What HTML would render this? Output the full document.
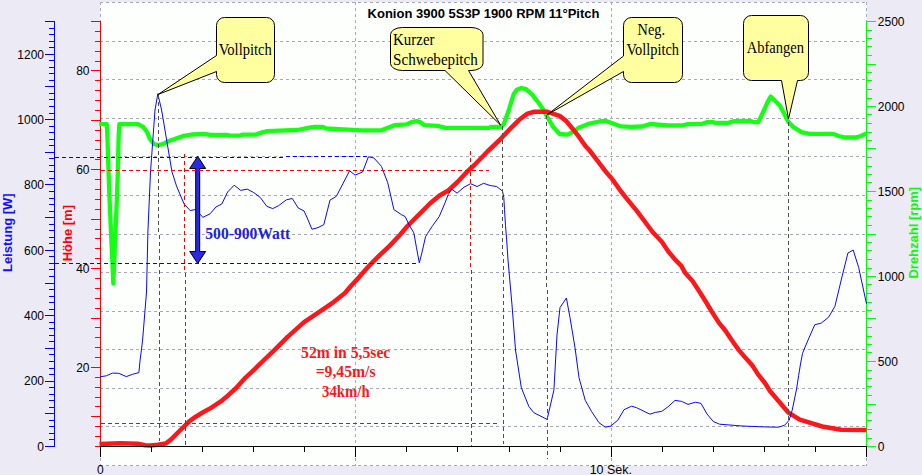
<!DOCTYPE html>
<html><head><meta charset="utf-8"><title>Konion 3900 5S3P 1900 RPM 11°Pitch</title>
<style>html,body{margin:0;padding:0;background:#ECEAF5;overflow:hidden;}svg{display:block;}text{font-family:"Liberation Sans",Arial,sans-serif;}.s{font-family:"Liberation Serif","Times New Roman",serif;}</style></head><body>
<svg width="922" height="475" viewBox="0 0 922 475">
<rect width="922" height="475" fill="#ECEAF5"/>
<rect x="100" y="2" width="767" height="464" fill="#FDFFFD"/>
<g stroke="#A8A8B8" stroke-width="1" stroke-dasharray="3 3" shape-rendering="crispEdges" fill="none">
<line x1="100" x2="867" y1="2.5" y2="2.5"/>
<line x1="100" x2="867" y1="41.5" y2="41.5"/>
<line x1="100" x2="867" y1="79.5" y2="79.5"/>
<line x1="100" x2="867" y1="118.5" y2="118.5"/>
<line x1="100" x2="867" y1="156.5" y2="156.5"/>
<line x1="100" x2="867" y1="195.5" y2="195.5"/>
<line x1="100" x2="867" y1="234.5" y2="234.5"/>
<line x1="100" x2="867" y1="272.5" y2="272.5"/>
<line x1="100" x2="867" y1="311.5" y2="311.5"/>
<line x1="100" x2="867" y1="349.5" y2="349.5"/>
<line x1="100" x2="867" y1="388.5" y2="388.5"/>
<line x1="100" x2="867" y1="426.5" y2="426.5"/>
<line x1="100" x2="867" y1="465.5" y2="465.5"/>
<line x1="100.5" x2="100.5" y1="2" y2="466"/>
<line x1="355.5" x2="355.5" y1="2" y2="466"/>
<line x1="611.5" x2="611.5" y1="2" y2="466"/>
<line x1="866.5" x2="866.5" y1="2" y2="466"/>
</g>
<g stroke="#0000FF" stroke-width="1" shape-rendering="crispEdges">
<line x1="54.5" x2="54.5" y1="21" y2="447"/>
<line x1="45" x2="55" y1="446.5" y2="446.5"/>
<line x1="49" x2="55" y1="439.5" y2="439.5"/>
<line x1="49" x2="55" y1="433.5" y2="433.5"/>
<line x1="49" x2="55" y1="426.5" y2="426.5"/>
<line x1="49" x2="55" y1="420.5" y2="420.5"/>
<line x1="45" x2="55" y1="413.5" y2="413.5"/>
<line x1="49" x2="55" y1="407.5" y2="407.5"/>
<line x1="49" x2="55" y1="400.5" y2="400.5"/>
<line x1="49" x2="55" y1="394.5" y2="394.5"/>
<line x1="49" x2="55" y1="387.5" y2="387.5"/>
<line x1="45" x2="55" y1="381.5" y2="381.5"/>
<line x1="49" x2="55" y1="374.5" y2="374.5"/>
<line x1="49" x2="55" y1="368.5" y2="368.5"/>
<line x1="49" x2="55" y1="361.5" y2="361.5"/>
<line x1="49" x2="55" y1="354.5" y2="354.5"/>
<line x1="45" x2="55" y1="348.5" y2="348.5"/>
<line x1="49" x2="55" y1="341.5" y2="341.5"/>
<line x1="49" x2="55" y1="335.5" y2="335.5"/>
<line x1="49" x2="55" y1="328.5" y2="328.5"/>
<line x1="49" x2="55" y1="322.5" y2="322.5"/>
<line x1="45" x2="55" y1="315.5" y2="315.5"/>
<line x1="49" x2="55" y1="309.5" y2="309.5"/>
<line x1="49" x2="55" y1="302.5" y2="302.5"/>
<line x1="49" x2="55" y1="296.5" y2="296.5"/>
<line x1="49" x2="55" y1="289.5" y2="289.5"/>
<line x1="45" x2="55" y1="283.5" y2="283.5"/>
<line x1="49" x2="55" y1="276.5" y2="276.5"/>
<line x1="49" x2="55" y1="269.5" y2="269.5"/>
<line x1="49" x2="55" y1="263.5" y2="263.5"/>
<line x1="49" x2="55" y1="256.5" y2="256.5"/>
<line x1="45" x2="55" y1="250.5" y2="250.5"/>
<line x1="49" x2="55" y1="243.5" y2="243.5"/>
<line x1="49" x2="55" y1="237.5" y2="237.5"/>
<line x1="49" x2="55" y1="230.5" y2="230.5"/>
<line x1="49" x2="55" y1="224.5" y2="224.5"/>
<line x1="45" x2="55" y1="217.5" y2="217.5"/>
<line x1="49" x2="55" y1="211.5" y2="211.5"/>
<line x1="49" x2="55" y1="204.5" y2="204.5"/>
<line x1="49" x2="55" y1="198.5" y2="198.5"/>
<line x1="49" x2="55" y1="191.5" y2="191.5"/>
<line x1="45" x2="55" y1="184.5" y2="184.5"/>
<line x1="49" x2="55" y1="178.5" y2="178.5"/>
<line x1="49" x2="55" y1="171.5" y2="171.5"/>
<line x1="49" x2="55" y1="165.5" y2="165.5"/>
<line x1="49" x2="55" y1="158.5" y2="158.5"/>
<line x1="45" x2="55" y1="152.5" y2="152.5"/>
<line x1="49" x2="55" y1="145.5" y2="145.5"/>
<line x1="49" x2="55" y1="139.5" y2="139.5"/>
<line x1="49" x2="55" y1="132.5" y2="132.5"/>
<line x1="49" x2="55" y1="126.5" y2="126.5"/>
<line x1="45" x2="55" y1="119.5" y2="119.5"/>
<line x1="49" x2="55" y1="113.5" y2="113.5"/>
<line x1="49" x2="55" y1="106.5" y2="106.5"/>
<line x1="49" x2="55" y1="99.5" y2="99.5"/>
<line x1="49" x2="55" y1="93.5" y2="93.5"/>
<line x1="45" x2="55" y1="86.5" y2="86.5"/>
<line x1="49" x2="55" y1="80.5" y2="80.5"/>
<line x1="49" x2="55" y1="73.5" y2="73.5"/>
<line x1="49" x2="55" y1="67.5" y2="67.5"/>
<line x1="49" x2="55" y1="60.5" y2="60.5"/>
<line x1="45" x2="55" y1="54.5" y2="54.5"/>
<line x1="49" x2="55" y1="47.5" y2="47.5"/>
<line x1="49" x2="55" y1="41.5" y2="41.5"/>
<line x1="49" x2="55" y1="34.5" y2="34.5"/>
<line x1="49" x2="55" y1="28.5" y2="28.5"/>
<line x1="45" x2="55" y1="21.5" y2="21.5"/>
</g>
<g stroke="#FF0000" stroke-width="1" shape-rendering="crispEdges">
<line x1="100.5" x2="100.5" y1="21" y2="447"/>
<line x1="95" x2="101" y1="446.5" y2="446.5"/>
<line x1="95" x2="101" y1="436.5" y2="436.5"/>
<line x1="95" x2="101" y1="426.5" y2="426.5"/>
<line x1="91" x2="101" y1="416.5" y2="416.5"/>
<line x1="95" x2="101" y1="406.5" y2="406.5"/>
<line x1="95" x2="101" y1="397.5" y2="397.5"/>
<line x1="95" x2="101" y1="387.5" y2="387.5"/>
<line x1="95" x2="101" y1="377.5" y2="377.5"/>
<line x1="91" x2="101" y1="367.5" y2="367.5"/>
<line x1="95" x2="101" y1="357.5" y2="357.5"/>
<line x1="95" x2="101" y1="347.5" y2="347.5"/>
<line x1="95" x2="101" y1="337.5" y2="337.5"/>
<line x1="95" x2="101" y1="327.5" y2="327.5"/>
<line x1="91" x2="101" y1="318.5" y2="318.5"/>
<line x1="95" x2="101" y1="308.5" y2="308.5"/>
<line x1="95" x2="101" y1="298.5" y2="298.5"/>
<line x1="95" x2="101" y1="288.5" y2="288.5"/>
<line x1="95" x2="101" y1="278.5" y2="278.5"/>
<line x1="91" x2="101" y1="268.5" y2="268.5"/>
<line x1="95" x2="101" y1="258.5" y2="258.5"/>
<line x1="95" x2="101" y1="248.5" y2="248.5"/>
<line x1="95" x2="101" y1="238.5" y2="238.5"/>
<line x1="95" x2="101" y1="229.5" y2="229.5"/>
<line x1="91" x2="101" y1="219.5" y2="219.5"/>
<line x1="95" x2="101" y1="209.5" y2="209.5"/>
<line x1="95" x2="101" y1="199.5" y2="199.5"/>
<line x1="95" x2="101" y1="189.5" y2="189.5"/>
<line x1="95" x2="101" y1="179.5" y2="179.5"/>
<line x1="91" x2="101" y1="169.5" y2="169.5"/>
<line x1="95" x2="101" y1="159.5" y2="159.5"/>
<line x1="95" x2="101" y1="149.5" y2="149.5"/>
<line x1="95" x2="101" y1="140.5" y2="140.5"/>
<line x1="95" x2="101" y1="130.5" y2="130.5"/>
<line x1="91" x2="101" y1="120.5" y2="120.5"/>
<line x1="95" x2="101" y1="110.5" y2="110.5"/>
<line x1="95" x2="101" y1="100.5" y2="100.5"/>
<line x1="95" x2="101" y1="90.5" y2="90.5"/>
<line x1="95" x2="101" y1="80.5" y2="80.5"/>
<line x1="91" x2="101" y1="70.5" y2="70.5"/>
<line x1="95" x2="101" y1="61.5" y2="61.5"/>
<line x1="95" x2="101" y1="51.5" y2="51.5"/>
<line x1="95" x2="101" y1="41.5" y2="41.5"/>
<line x1="95" x2="101" y1="31.5" y2="31.5"/>
<line x1="91" x2="101" y1="21.5" y2="21.5"/>
</g>
<g stroke="#00FF00" stroke-width="1" shape-rendering="crispEdges">
<line x1="866.5" x2="866.5" y1="21" y2="447"/>
<line x1="866" x2="876" y1="446.5" y2="446.5"/>
<line x1="866" x2="872" y1="438.5" y2="438.5"/>
<line x1="866" x2="872" y1="429.5" y2="429.5"/>
<line x1="866" x2="872" y1="420.5" y2="420.5"/>
<line x1="866" x2="872" y1="412.5" y2="412.5"/>
<line x1="866" x2="876" y1="404.5" y2="404.5"/>
<line x1="866" x2="872" y1="395.5" y2="395.5"/>
<line x1="866" x2="872" y1="386.5" y2="386.5"/>
<line x1="866" x2="872" y1="378.5" y2="378.5"/>
<line x1="866" x2="872" y1="370.5" y2="370.5"/>
<line x1="866" x2="876" y1="361.5" y2="361.5"/>
<line x1="866" x2="872" y1="352.5" y2="352.5"/>
<line x1="866" x2="872" y1="344.5" y2="344.5"/>
<line x1="866" x2="872" y1="336.5" y2="336.5"/>
<line x1="866" x2="872" y1="327.5" y2="327.5"/>
<line x1="866" x2="876" y1="318.5" y2="318.5"/>
<line x1="866" x2="872" y1="310.5" y2="310.5"/>
<line x1="866" x2="872" y1="302.5" y2="302.5"/>
<line x1="866" x2="872" y1="293.5" y2="293.5"/>
<line x1="866" x2="872" y1="284.5" y2="284.5"/>
<line x1="866" x2="876" y1="276.5" y2="276.5"/>
<line x1="866" x2="872" y1="268.5" y2="268.5"/>
<line x1="866" x2="872" y1="259.5" y2="259.5"/>
<line x1="866" x2="872" y1="250.5" y2="250.5"/>
<line x1="866" x2="872" y1="242.5" y2="242.5"/>
<line x1="866" x2="876" y1="234.5" y2="234.5"/>
<line x1="866" x2="872" y1="225.5" y2="225.5"/>
<line x1="866" x2="872" y1="216.5" y2="216.5"/>
<line x1="866" x2="872" y1="208.5" y2="208.5"/>
<line x1="866" x2="872" y1="200.5" y2="200.5"/>
<line x1="866" x2="876" y1="191.5" y2="191.5"/>
<line x1="866" x2="872" y1="182.5" y2="182.5"/>
<line x1="866" x2="872" y1="174.5" y2="174.5"/>
<line x1="866" x2="872" y1="166.5" y2="166.5"/>
<line x1="866" x2="872" y1="157.5" y2="157.5"/>
<line x1="866" x2="876" y1="148.5" y2="148.5"/>
<line x1="866" x2="872" y1="140.5" y2="140.5"/>
<line x1="866" x2="872" y1="132.5" y2="132.5"/>
<line x1="866" x2="872" y1="123.5" y2="123.5"/>
<line x1="866" x2="872" y1="114.5" y2="114.5"/>
<line x1="866" x2="876" y1="106.5" y2="106.5"/>
<line x1="866" x2="872" y1="98.5" y2="98.5"/>
<line x1="866" x2="872" y1="89.5" y2="89.5"/>
<line x1="866" x2="872" y1="80.5" y2="80.5"/>
<line x1="866" x2="872" y1="72.5" y2="72.5"/>
<line x1="866" x2="876" y1="64.5" y2="64.5"/>
<line x1="866" x2="872" y1="55.5" y2="55.5"/>
<line x1="866" x2="872" y1="46.5" y2="46.5"/>
<line x1="866" x2="872" y1="38.5" y2="38.5"/>
<line x1="866" x2="872" y1="30.5" y2="30.5"/>
<line x1="866" x2="876" y1="21.5" y2="21.5"/>
</g>
<polyline points="99.2,124.1 106.8,124.2 107.3,135.0 107.9,150.0 108.5,171.0 109.6,200.0 111.0,232.0 112.3,260.0 113.3,283.5 114.3,260.0 115.5,232.0 116.8,200.0 117.9,171.0 118.3,150.0 118.7,135.0 119.3,124.2 138.0,124.2 143.3,127.0 147.2,132.2 149.8,138.7 153.7,143.7 157.7,145.2 162.9,144.2 168.1,141.3 176.0,138.5 183.8,135.9 191.6,134.5 204.7,133.9 210.0,134.9 227.0,134.9 229.6,135.6 240.0,135.6 242.6,134.6 255.7,134.6 262.2,132.4 267.5,131.1 279.2,130.7 297.5,130.0 309.2,127.7 314.5,126.8 322.3,126.8 326.5,128.5 343.5,129.4 361.8,130.3 381.4,130.3 387.9,127.8 394.4,125.2 406.2,124.4 411.4,122.2 416.6,121.2 420.5,122.2 424.5,125.2 437.5,125.8 445.7,127.8 488.8,127.8 491.4,126.9 501.2,126.9 503.8,124.3 508.4,111.3 513.6,94.3 516.8,89.7 521.4,88.0 526.0,89.1 531.9,94.3 537.1,100.8 542.3,108.0 546.5,115.7 553.1,126.8 559.6,134.0 567.4,134.6 574.0,131.3 579.2,127.4 589.6,123.5 601.4,121.2 605.3,120.9 613.1,123.5 621.0,126.4 631.4,126.8 641.9,126.5 648.4,124.5 653.6,123.9 655.2,124.5 668.3,125.5 681.3,125.5 687.9,124.2 702.2,123.8 707.5,122.1 712.7,122.1 715.3,122.9 728.3,122.9 733.6,121.2 750.5,121.0 753.2,122.1 758.3,122.1 762.8,112.7 768.1,101.0 770.7,96.6 774.6,100.3 779.8,105.5 784.4,114.0 788.3,121.9 794.2,127.7 802.0,132.3 809.8,133.9 833.4,133.9 838.6,136.0 845.1,137.5 855.5,137.5 860.8,136.0 866.5,133.4" fill="none" stroke="#14FF14" stroke-width="4.3" stroke-linejoin="round" stroke-linecap="butt"/>
<polyline points="99.5,444.0 120.0,443.2 137.6,443.7 145.1,445.3 150.0,445.5 157.8,444.8 165.7,443.5 170.9,439.6 177.4,433.0 184.0,426.5 189.2,421.3 195.7,416.7 202.2,412.8 211.4,407.6 220.5,401.7 228.3,395.2 236.2,388.0 245.3,377.8 252.1,371.6 263.5,360.5 274.6,349.9 287.6,336.9 304.1,322.1 319.7,311.7 333.6,302.1 345.0,293.0 351.1,285.7 359.6,276.6 370.0,264.8 379.2,255.7 389.6,245.9 400.1,234.8 407.5,226.0 420.9,212.7 430.0,203.5 439.2,195.7 448.3,190.5 457.5,182.0 466.6,172.2 474.4,165.0 487.5,151.5 499.6,140.0 509.4,129.6 519.2,119.8 527.5,113.6 534.5,111.8 547.5,111.8 559.6,115.9 566.1,120.9 572.6,128.7 579.2,137.2 585.7,146.4 589.6,150.5 596.8,159.8 604.6,170.2 612.4,179.4 620.3,190.5 628.1,200.3 636.6,210.7 652.6,232.0 661.8,241.8 668.3,251.5 676.1,260.7 681.3,265.9 685.3,273.1 692.7,281.2 699.4,291.5 706.1,302.2 712.0,312.0 719.2,323.1 725.3,330.5 732.0,340.5 738.5,349.6 745.7,358.1 752.2,365.3 758.1,374.4 765.3,383.5 769.8,390.7 788.5,412.7 799.8,419.7 822.3,426.5 841.1,429.7 866.5,430.0" fill="none" stroke="#FD161A" stroke-width="4.5" stroke-linejoin="round" stroke-linecap="butt"/>
<polyline points="100.0,376.8 106.3,375.8 112.5,373.1 118.8,373.3 126.3,376.6 132.6,374.3 138.9,372.6 140.1,360.0 141.4,350.0 142.6,340.0 146.5,292.0 147.9,232.0 150.5,172.0 155.0,110.0 157.8,93.8 161.6,110.0 172.0,172.0 176.5,186.0 184.0,203.8 190.2,210.6 195.3,209.5 200.2,214.2 202.8,217.4 210.0,213.9 215.9,207.0 221.8,204.0 227.6,192.0 234.2,185.2 240.7,190.4 247.2,189.1 253.8,192.6 260.3,197.5 266.8,206.3 272.7,208.6 278.6,205.7 286.4,199.8 292.3,198.5 298.2,208.0 304.0,210.9 307.3,218.1 311.9,229.2 315.0,228.5 318.0,227.6 323.8,224.7 330.0,200.1 336.3,196.4 349.6,170.8 355.1,175.1 362.6,172.0 368.4,156.8 373.9,158.0 381.4,166.3 387.7,182.6 393.9,209.6 401.5,214.7 405.2,216.6 409.2,225.0 413.8,232.8 416.4,247.2 419.3,262.9 422.3,251.1 425.5,236.8 427.5,233.5 432.6,225.7 439.2,216.6 445.0,202.9 448.3,194.4 451.6,189.2 457.1,193.1 464.0,187.2 470.5,183.7 477.0,186.5 483.6,183.3 490.1,185.5 496.6,186.5 502.5,191.1 503.8,197.6 504.5,209.4 505.5,225.7 506.7,240.0 508.0,260.0 512.0,305.0 515.5,350.0 521.3,387.6 528.8,406.4 533.8,412.7 547.1,419.4 553.9,390.1 557.0,335.0 560.0,307.6 566.4,298.0 570.0,317.6 575.0,347.7 579.0,377.6 585.2,400.2 591.5,411.4 599.0,422.7 605.3,427.2 610.8,426.0 617.8,420.2 624.0,409.7 631.6,406.2 636.6,407.7 649.9,414.2 655.4,412.4 661.7,411.4 667.9,406.9 675.0,400.4 681.7,401.4 688.0,404.4 695.5,402.2 701.0,403.4 707.0,414.0 713.3,421.5 719.6,424.2 742.1,426.0 767.2,427.0 778.5,427.2 784.7,425.2 789.2,420.2 792.2,410.2 796.6,388.8 798.6,375.7 800.5,364.0 802.5,353.5 805.1,347.0 809.0,337.8 814.8,324.7 821.1,323.2 828.6,317.2 834.9,306.4 842.4,275.1 847.9,253.1 853.2,250.0 858.7,267.6 866.5,303.9" fill="none" stroke="#0808FF" stroke-width="1" stroke-linejoin="round"/>
<g stroke="#000000" stroke-width="1" shape-rendering="crispEdges">
<line x1="100" x2="867" y1="446.5" y2="446.5"/>
<line x1="100.5" x2="100.5" y1="446" y2="457"/>
<line x1="151.5" x2="151.5" y1="446" y2="452"/>
<line x1="202.5" x2="202.5" y1="446" y2="452"/>
<line x1="253.5" x2="253.5" y1="446" y2="452"/>
<line x1="304.5" x2="304.5" y1="446" y2="452"/>
<line x1="355.5" x2="355.5" y1="446" y2="457"/>
<line x1="406.5" x2="406.5" y1="446" y2="452"/>
<line x1="457.5" x2="457.5" y1="446" y2="452"/>
<line x1="509.5" x2="509.5" y1="446" y2="452"/>
<line x1="560.5" x2="560.5" y1="446" y2="452"/>
<line x1="611.5" x2="611.5" y1="446" y2="457"/>
<line x1="662.5" x2="662.5" y1="446" y2="452"/>
<line x1="713.5" x2="713.5" y1="446" y2="452"/>
<line x1="764.5" x2="764.5" y1="446" y2="452"/>
<line x1="815.5" x2="815.5" y1="446" y2="452"/>
<line x1="866.5" x2="866.5" y1="446" y2="457"/>
</g>
<path d="M197.7,156.3 L205.7,168.5 H199.7 V251.5 H205.7 L197.7,263.5 L189.7,251.5 H195.7 V168.5 H189.7 Z" fill="#2828E6" stroke="#000000" stroke-width="1" stroke-linejoin="miter"/>
<text class="s" x="205.3" y="239" font-size="16" font-weight="bold" fill="#2222DD" textLength="85" lengthAdjust="spacingAndGlyphs">500-900Watt</text>
<g stroke-width="1" stroke-dasharray="4 3" shape-rendering="crispEdges" fill="none">
<line x1="55" x2="369" y1="157.93" y2="156.67" stroke="#0000FF"/>
<line x1="55" x2="419" y1="263.5" y2="263.5" stroke="#0000FF"/>
<line x1="101" x2="489" y1="170.5" y2="170.5" stroke="#FF0000"/>
<line x1="101" x2="497" y1="423.5" y2="423.5" stroke="#FF0000"/>
<line x1="184.6" x2="185.6" y1="154" y2="446" stroke="#FF0000"/>
<line x1="470.6" x2="471.6" y1="151" y2="446" stroke="#FF0000"/>
<line x1="158.6" x2="159.6" y1="95" y2="441" stroke="#505050"/>
<line x1="502.6" x2="503.6" y1="126" y2="444" stroke="#505050"/>
<line x1="546.4" x2="547.6" y1="115" y2="459" stroke="#505050"/>
<line x1="788.5" x2="788.5" y1="122" y2="446" stroke="#505050"/>
</g>
<g class="s" font-size="16" font-weight="bold" fill="#FD161A" lengthAdjust="spacingAndGlyphs">
<text class="s" x="301.1" y="357.6" textLength="89.2" lengthAdjust="spacingAndGlyphs">52m in 5,5sec</text>
<text class="s" x="315.7" y="377.4" textLength="59.8" lengthAdjust="spacingAndGlyphs">=9,45m/s</text>
<text class="s" x="322" y="397.2" textLength="47.6" lengthAdjust="spacingAndGlyphs">34km/h</text>
</g>
<g fill="#FFFF9F" stroke="#000000" stroke-width="1" stroke-linejoin="round">
<path d="M224.5,17.5 H266.5 A8,8 0 0 1 274.5,25.5 V74.5 A8,8 0 0 1 266.5,82.5 H224.5 A8,8 0 0 1 216.5,74.5 V71.5 L158,94.5 L216.5,55.5 V25.5 A8,8 0 0 1 224.5,17.5 Z"/>
<path d="M402.5,27.5 H471 A12,7 0 0 1 483,34.5 V63.5 A12,7 0 0 1 471,70.5 H468.5 L500.5,125 L445,70.5 H402.5 A12,7 0 0 1 390.5,63.5 V34.5 A12,7 0 0 1 402.5,27.5 Z"/>
<path d="M631.5,17.5 H674.5 A8,8 0 0 1 682.5,25.5 V74.5 A8,8 0 0 1 674.5,82.5 H631.5 A8,8 0 0 1 623.5,74.5 V71.5 L547.5,114.5 L623.5,56 V25.5 A8,8 0 0 1 631.5,17.5 Z"/>
<path d="M751.5,15.5 H800.5 A8,8 0 0 1 808.5,23.5 V72.5 A8,8 0 0 1 800.5,80.5 H797.5 L788.5,119 L781.5,80.5 H751.5 A8,8 0 0 1 743.5,72.5 V23.5 A8,8 0 0 1 751.5,15.5 Z"/>
</g>
<g fill="#000000" lengthAdjust="spacingAndGlyphs">
<text class="s" x="218.7" y="54.7" font-size="16" textLength="53.1" lengthAdjust="spacingAndGlyphs">Vollpitch</text>
<text class="s" x="393.1" y="44.9" font-size="16" textLength="41.4" lengthAdjust="spacingAndGlyphs">Kurzer</text>
<text class="s" x="393.1" y="64.9" font-size="16" textLength="84.7" lengthAdjust="spacingAndGlyphs">Schwebepitch</text>
<text class="s" x="637.6" y="35" font-size="16" textLength="27.4" lengthAdjust="spacingAndGlyphs">Neg.</text>
<text class="s" x="626.5" y="54.6" font-size="16" textLength="52.5" lengthAdjust="spacingAndGlyphs">Vollpitch</text>
<text class="s" x="746.7" y="53" font-size="16" textLength="57.3" lengthAdjust="spacingAndGlyphs">Abfangen</text>
</g>
<g font-size="12" fill="#000000">
<text x="44" y="450.8" text-anchor="end">0</text>
<text x="44" y="385.4" text-anchor="end">200</text>
<text x="44" y="320.0" text-anchor="end">400</text>
<text x="44" y="254.6" text-anchor="end">600</text>
<text x="44" y="189.3" text-anchor="end">800</text>
<text x="44" y="123.9" text-anchor="end">1000</text>
<text x="44" y="58.5" text-anchor="end">1200</text>
<text x="89.5" y="371.7" text-anchor="end">20</text>
<text x="89.5" y="272.9" text-anchor="end">40</text>
<text x="89.5" y="174.1" text-anchor="end">60</text>
<text x="89.5" y="75.2" text-anchor="end">80</text>
<text x="877.8" y="450.8">0</text>
<text x="877.8" y="365.8">500</text>
<text x="877.8" y="280.8">1000</text>
<text x="877.8" y="195.8">1500</text>
<text x="877.8" y="110.8">2000</text>
<text x="877.8" y="25.8">2500</text>
<text x="100.3" y="473.6" text-anchor="middle">0</text>
<text x="589.7" y="473.6" textLength="42.3" lengthAdjust="spacingAndGlyphs">10 Sek.</text>
</g>
<text x="483.5" y="18.2" font-size="13" font-weight="bold" text-anchor="middle" fill="#000000">Konion 3900 5S3P 1900 RPM 11°Pitch</text>
<text transform="translate(11.7,232.7) rotate(-90)" font-size="13" font-weight="bold" text-anchor="middle" fill="#1010FF">Leistung [W]</text>
<text transform="translate(71.6,233.2) rotate(-90)" font-size="13" font-weight="bold" text-anchor="middle" fill="#FF0000">Höhe [m]</text>
<text transform="translate(918,232.7) rotate(-90)" font-size="13" font-weight="bold" text-anchor="middle" fill="#0CF80C">Drehzahl [rpm]</text>
</svg></body></html>
